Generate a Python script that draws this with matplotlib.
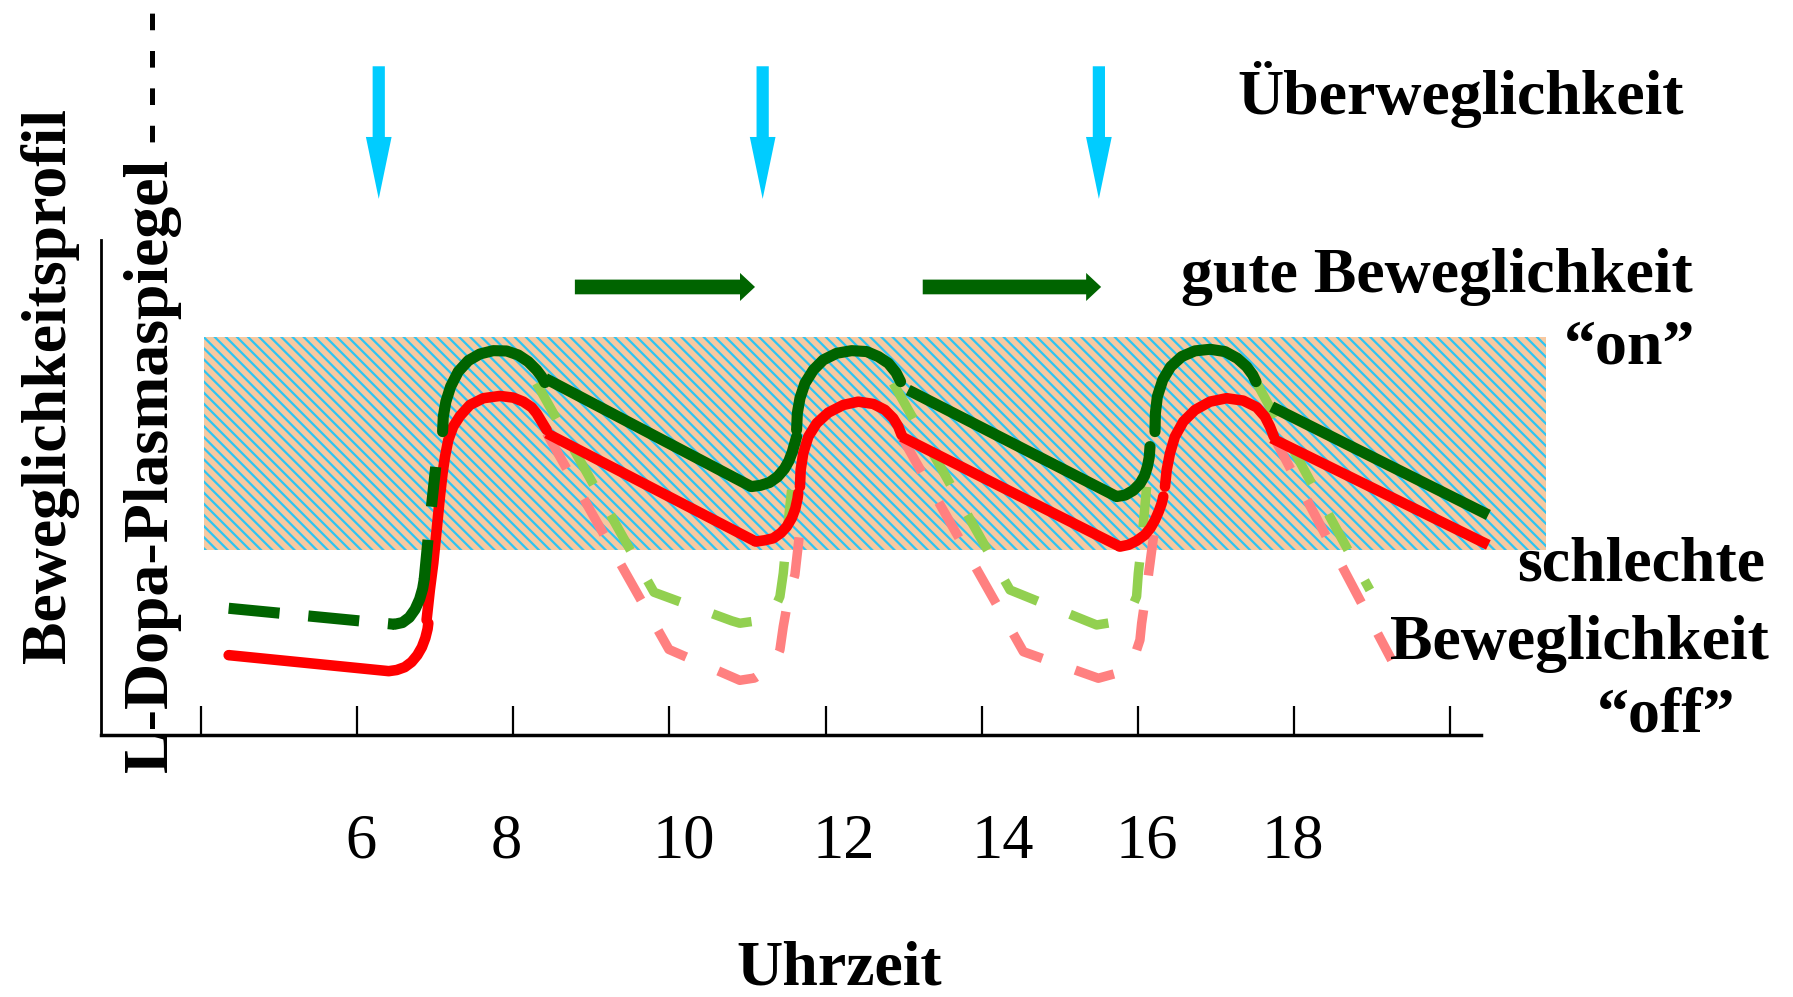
import matplotlib
matplotlib.use('Agg')
import matplotlib.pyplot as plt
from matplotlib.patches import Rectangle, FancyArrowPatch

plt.rcParams['font.family'] = 'Liberation Serif'
plt.rcParams['hatch.linewidth'] = 1.6

dkgreen = '#006400'
red = '#FF0000'
ltgreen = '#92D050'
pink = '#FF8080'
cyan = '#00CCFF'
peach = '#F7C9A0'
hatchblue = '#2EC4F2'

# x axis in hours, y axis in arbitrary level units
tick_hours = [4, 6, 8, 10, 12, 14, 16, 18, 20]
label_hours = [6.05, 7.91, 10.18, 12.23, 14.27, 16.12, 17.98]
label_text = ['6', '8', '10', '12', '14', '16', '18']

# "on" range (hatched band)
band_x = (4.03, 21.23)
band_y = (1.62, 3.48)

# dose times (cyan arrows) and periods of good mobility (green arrows)
dose_hours = [6.275, 11.194, 15.502]
dose_top, dose_tip = 5.85, 4.69
good_periods = [(8.788, 11.096), (13.245, 15.531)]
good_level = 3.92

# dark green curve (mobility profile)
green_pre_x = [4.352, 6.476]
green_pre_y = [1.11, 0.97]
green_hook1_x = [6.476, 6.579, 6.667, 6.740, 6.799, 6.837, 6.857]
green_hook1_y = [0.97, 0.985, 1.03, 1.10, 1.19, 1.28, 1.36]
green_rise1_x = [6.857, 6.916, 7.018, 7.077]
green_rise1_y = [1.36, 1.78, 2.43, 2.58]
green_arc1_x = [7.093, 7.102, 7.135, 7.196, 7.294, 7.423, 7.572, 7.742, 7.914, 8.063, 8.190, 8.297, 8.362, 8.404]
green_arc1_y = [2.655, 2.786, 2.917, 3.049, 3.18, 3.276, 3.334, 3.363, 3.36, 3.325, 3.267, 3.194, 3.136, 3.084]
green_fall1_x = [8.410, 11.048]
green_fall1_y = [3.12, 2.174]
green_hook2_x = [11.048, 11.165, 11.282, 11.385, 11.473, 11.531, 11.575, 11.604, 11.629]
green_hook2_y = [2.174, 2.185, 2.21, 2.26, 2.33, 2.40, 2.48, 2.55, 2.61]
green_arc2_x = [11.629, 11.638, 11.672, 11.736, 11.843, 11.971, 12.142, 12.334, 12.526, 12.676, 12.805, 12.903, 12.961]
green_arc2_y = [2.67, 2.815, 2.947, 3.078, 3.194, 3.282, 3.34, 3.363, 3.355, 3.311, 3.253, 3.171, 3.092]
green_fall2_x = [13.059, 15.729]
green_fall2_y = [3.019, 2.087]
green_hook3_x = [15.729, 15.839, 15.941, 16.029, 16.088, 16.124, 16.147, 16.157]
green_hook3_y = [2.087, 2.10, 2.14, 2.20, 2.27, 2.35, 2.43, 2.524]
green_arc3_x = [16.221, 16.226, 16.251, 16.320, 16.422, 16.563, 16.733, 16.926, 17.118, 17.276, 17.395, 17.473, 17.515]
green_arc3_y = [2.655, 2.815, 2.961, 3.107, 3.223, 3.311, 3.361, 3.375, 3.355, 3.296, 3.223, 3.151, 3.092]
green_fall3_x = [17.716, 20.492]
green_fall3_y = [2.873, 1.926]

# red curve (L-Dopa plasma level)
red_pre_x = [4.352, 6.403, 6.505, 6.608, 6.696, 6.769, 6.828, 6.872, 6.901, 6.910]
red_pre_y = [0.70, 0.56, 0.57, 0.595, 0.64, 0.70, 0.77, 0.85, 0.93, 0.98]
red_arc1_x = [6.888, 6.930, 6.974, 7.017, 7.059, 7.093, 7.124, 7.166, 7.229, 7.316, 7.443, 7.615,
              7.829, 7.999, 8.127, 8.234, 8.297, 8.362, 8.426]
red_arc1_y = [1.008, 1.27, 1.504, 1.795, 2.087, 2.291, 2.436, 2.582, 2.699, 2.792, 2.888, 2.947,
              2.967, 2.952, 2.917, 2.868, 2.815, 2.742, 2.67]
red_fall1_x = [8.426, 11.106]
red_fall1_y = [2.641, 1.693]
red_hook2_x = [11.106, 11.223, 11.330, 11.429, 11.502, 11.568, 11.612, 11.641, 11.650]
red_hook2_y = [1.693, 1.705, 1.722, 1.77, 1.824, 1.90, 1.98, 2.07, 2.116]
red_arc2_x = [11.672, 11.681, 11.714, 11.779, 11.886, 12.035, 12.227, 12.419, 12.611, 12.761, 12.867, 12.932, 12.974]
red_arc2_y = [2.174, 2.32, 2.466, 2.611, 2.728, 2.821, 2.888, 2.917, 2.897, 2.845, 2.772, 2.699, 2.626]
red_fall2_x = [12.974, 15.771]
red_fall2_y = [2.611, 1.649]
red_hook3_x = [15.771, 15.883, 15.985, 16.088, 16.161, 16.220, 16.271, 16.308, 16.327]
red_hook3_y = [1.649, 1.665, 1.70, 1.75, 1.81, 1.88, 1.96, 2.03, 2.087]
red_arc3_x = [16.349, 16.371, 16.413, 16.476, 16.583, 16.733, 16.926, 17.138, 17.352, 17.524, 17.629, 17.694, 17.745]
red_arc3_y = [2.174, 2.32, 2.466, 2.611, 2.742, 2.844, 2.917, 2.947, 2.926, 2.868, 2.786, 2.699, 2.611]
red_fall3_x = [17.716, 20.492]
red_fall3_y = [2.597, 1.664]

# light green dashed: mobility without the next dose
lg1_x = [8.297, 9.802, 10.798, 10.902, 11.121, 11.245, 11.355, 11.415, 11.458, 11.502, 11.565]
lg1_y = [3.078, 1.25, 1.0, 0.979, 1.0, 1.037, 1.12, 1.212, 1.416, 1.737, 2.145]
lg2_x = [12.867, 14.363, 15.341, 15.473, 15.707, 15.815, 15.927, 15.985, 16.007, 16.050, 16.114]
lg2_y = [3.078, 1.27, 1.0, 0.964, 0.99, 1.037, 1.12, 1.212, 1.416, 1.678, 2.174]
lg3_x = [17.515, 18.974]
lg3_y = [3.092, 1.27]

# pink dashed: plasma level without the next dose
pk1_x = [8.426, 9.993, 10.901, 11.091, 11.245, 11.355, 11.415, 11.458, 11.531, 11.607, 11.672, 11.692]
pk1_y = [2.641, 0.75, 0.48, 0.50, 0.571, 0.65, 0.746, 0.95, 1.23, 1.402, 1.795, 2.03]
pk2_x = [12.974, 14.535, 15.495, 15.729, 15.853, 15.943, 16.028, 16.050, 16.103, 16.157, 16.220]
pk2_y = [2.611, 0.73, 0.498, 0.542, 0.59, 0.658, 0.833, 0.979, 1.23, 1.504, 1.83]
pk3_x = [17.716, 19.253]
pk3_y = [2.641, 0.658]

fig = plt.figure(figsize=(17.93, 9.97), dpi=100)
ax = fig.add_axes([0.0561, 0.2626, 0.7698, 0.4966])
ax.set_xlim(2.711, 20.396)
ax.set_ylim(0, 4.33)
ax.spines['top'].set_visible(False)
ax.spines['right'].set_visible(False)
ax.spines['bottom'].set_linewidth(2.5)
ax.spines['left'].set_linewidth(2.0)
ax.set_xticks(tick_hours)
ax.set_xticklabels([])
ax.set_yticks([])
ax.tick_params(axis='x', direction='in', length=21, width=1.6)
ax.patch.set_alpha(0)

band = Rectangle((band_x[0], band_y[0]), band_x[1] - band_x[0], band_y[1] - band_y[0],
                 facecolor=peach, edgecolor=hatchblue, hatch='\\\\\\', lw=0,
                 clip_on=False, zorder=1)
ax.add_patch(band)

# dashed alternatives
dash = (0, (4.3, 3.7))
for xs, ys in [(pk1_x, pk1_y), (pk2_x, pk2_y), (pk3_x, pk3_y)]:
    ax.plot(xs, ys, color=pink, lw=6.8, linestyle=dash, dash_capstyle='butt',
            clip_on=False, zorder=2)
for xs, ys in [(lg1_x, lg1_y), (lg2_x, lg2_y), (lg3_x, lg3_y)]:
    ax.plot(xs, ys, color=ltgreen, lw=6.8, linestyle=dash, dash_capstyle='butt',
            clip_on=False, zorder=2)

# red curve
for xs, ys, cap in [(red_pre_x, red_pre_y, 'round'), (red_arc1_x, red_arc1_y, 'round'),
                    (red_fall1_x, red_fall1_y, 'butt'), (red_hook2_x, red_hook2_y, 'round'),
                    (red_arc2_x, red_arc2_y, 'round'), (red_fall2_x, red_fall2_y, 'butt'),
                    (red_hook3_x, red_hook3_y, 'round'), (red_arc3_x, red_arc3_y, 'round'),
                    (red_fall3_x, red_fall3_y, 'butt')]:
    ax.plot(xs, ys, color=red, lw=7.6, solid_capstyle=cap, solid_joinstyle='round',
            clip_on=False, zorder=3)

# dark green curve
ax.plot(green_pre_x, green_pre_y, color=dkgreen, lw=8.0, linestyle=(0, (4.6, 2.6)),
        dash_capstyle='butt', clip_on=False, zorder=3)
ax.plot(green_rise1_x, green_rise1_y, color=dkgreen, lw=8.0, linestyle=(0, (3.6, 3.0)),
        dash_capstyle='butt', clip_on=False, zorder=3)
for xs, ys, cap in [(green_hook1_x, green_hook1_y, 'round'), (green_arc1_x, green_arc1_y, 'round'),
                    (green_fall1_x, green_fall1_y, 'butt'), (green_hook2_x, green_hook2_y, 'round'),
                    (green_arc2_x, green_arc2_y, 'round'), (green_fall2_x, green_fall2_y, 'butt'),
                    (green_hook3_x, green_hook3_y, 'round'), (green_arc3_x, green_arc3_y, 'round'),
                    (green_fall3_x, green_fall3_y, 'butt')]:
    ax.plot(xs, ys, color=dkgreen, lw=8.0, solid_capstyle=cap, solid_joinstyle='round',
            clip_on=False, zorder=3)

# dose arrows
for h in dose_hours:
    arr = FancyArrowPatch((h, dose_top), (h, dose_tip),
                          arrowstyle='simple,head_length=44.6,head_width=18.5,tail_width=8.8',
                          mutation_scale=1, color=cyan, lw=0, shrinkA=0, shrinkB=0,
                          clip_on=False, zorder=4)
    ax.add_patch(arr)

# good mobility arrows
for h0, h1 in good_periods:
    arr = FancyArrowPatch((h0, good_level), (h1, good_level),
                          arrowstyle='simple,head_length=10.8,head_width=20.2,tail_width=10.6',
                          mutation_scale=1, color=dkgreen, lw=0, shrinkA=0, shrinkB=0,
                          clip_on=False, zorder=4)
    ax.add_patch(arr)

# hour labels
for h, t in zip(label_hours, label_text):
    ax.text(h, -1.07, t, ha='center', va='baseline', fontsize=45)

bold = dict(fontsize=46, fontweight='bold')
fig.text(0.8147, 0.8853, 'Überweglichkeit', ha='center', va='baseline', **bold)
fig.text(0.8013, 0.7069, 'gute Beweglichkeit', ha='center', va='baseline', **bold)
fig.text(0.9088, 0.6353, '\u201con\u201d', ha='center', va='baseline', **bold)
fig.text(0.9152, 0.4174, 'schlechte', ha='center', va='baseline', **bold)
fig.text(0.8811, 0.3394, 'Beweglichkeit', ha='center', va='baseline', **bold)
fig.text(0.9295, 0.2660, '\u201coff\u201d', ha='center', va='baseline', **bold)
fig.text(0.4678, 0.013, 'Uhrzeit', ha='center', va='baseline', **bold)
fig.text(0.0277, 0.613, 'Beweglichkeitsprofil', rotation=90, ha='center', va='center', **bold)
fig.text(0.0851, 0.6067, 'L-Dopa-Plasmaspiegel - - - -', rotation=90, ha='center', va='center', **bold)

fig.savefig('out.png', dpi=100)
